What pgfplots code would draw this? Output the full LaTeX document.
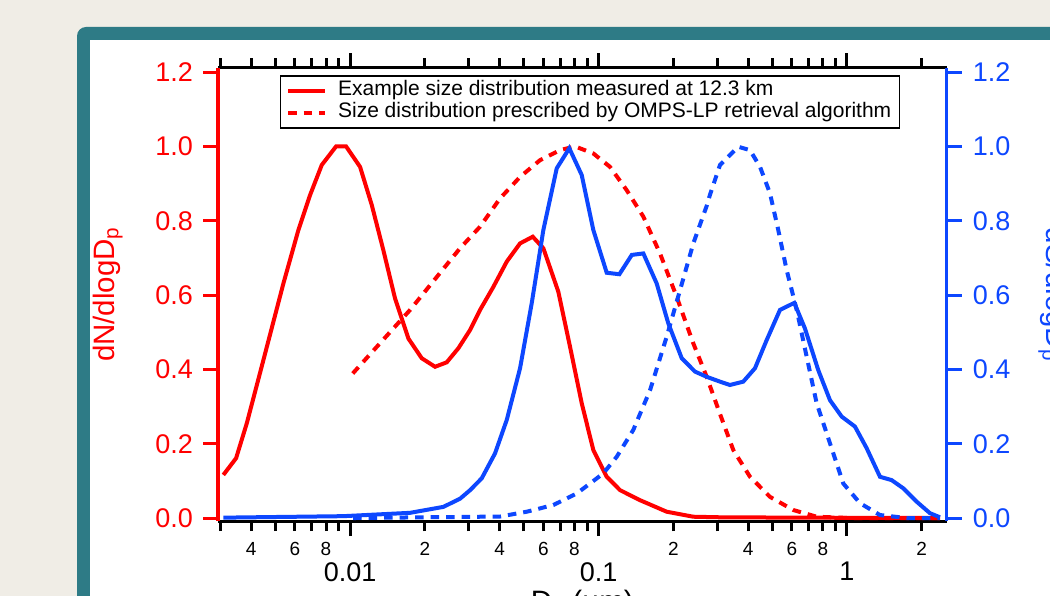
\documentclass[border=0pt]{standalone}
\usepackage{pgfplots}
\pgfplotsset{compat=1.18}
\usepackage{fontspec}
\setmainfont{Liberation Sans}
\definecolor{bgbeige}{HTML}{F0EDE6}
\definecolor{frameteal}{HTML}{2E7B86}
\definecolor{myred}{HTML}{FF0000}
\definecolor{myblue}{HTML}{0D47FF}
\newcommand{\bigf}{\fontsize{27}{30}\selectfont}
\newcommand{\labf}{\fontsize{29.5}{32}\selectfont}
\newcommand{\smallf}{\fontsize{19}{21}\selectfont}
\pgfplotsset{
  legend image code/.code={\draw[#1] (0pt,0pt) -- (37pt,0pt);},
}
\begin{document}
\begin{tikzpicture}
\useasboundingbox (0,0) rectangle (1050pt,-596pt);
\clip (0,0) rectangle (1050pt,-596pt);
\fill[bgbeige] (0,0) rectangle (1050pt,-596pt);
\fill[frameteal, rounded corners=9pt] (77pt,-27pt) rectangle (1120pt,-660pt);
\fill[white] (90pt,-40pt) rectangle (1120pt,-660pt);
\begin{axis}[
  at={(218pt,-521pt)}, anchor=south west,
  scale only axis, width=728.7pt, height=453pt,
  xmode=log, xmin=0.00294, xmax=2.52,
  ymin=-0.008, ymax=1.211,
  tick align=outside,
  ytick={0,0.2,0.4,0.6,0.8,1.0,1.2},
  yticklabels={0.0,0.2,0.4,0.6,0.8,1.0,1.2},
  major tick length=15pt,
  minor tick length=10pt,
  axis x line*=box, axis y line*=left,
  x axis line style={black, line width=3pt},
  xtick style={black, line width=3pt},
  y axis line style={myred, line width=3.5pt},
  ytick style={myred, line width=3pt},
  yticklabel style={font=\bigf, inner sep=0pt, myred, xshift=-10pt},
  xtick={0.01,0.1,1},
  xticklabels={0.01,0.1,1},
  xticklabel style={font=\bigf, inner sep=0pt, yshift=-26pt},
  extra x ticks={0.003,0.004,0.005,0.006,0.007,0.008,0.009,0.02,0.03,0.04,0.05,0.06,0.07,0.08,0.09,0.2,0.3,0.4,0.5,0.6,0.7,0.8,0.9,2},
  extra x tick labels={,4,,6,,8,,2,,4,,6,,8,,2,,4,,6,,8,,2},
  extra x tick style={major tick length=10pt, xticklabel style={font=\smallf, inner sep=0pt, yshift=15pt}},
  ylabel={dN/dlogD\textsubscript{p}},
  ylabel style={myred, font=\labf, at={(axis description cs:-0.151,0.5)}, anchor=center},
  xlabel={D\textsubscript{p} (µm)},
  xlabel style={font=\labf, at={(axis description cs:0.5,0)}, anchor=north, inner sep=0pt, yshift=-69pt},
  legend style={at={(0.085,0.984)}, anchor=north west, draw=black, line width=1.3pt, fill=white,
    font=\fontsize{21}{23}\selectfont, inner xsep=5.5pt, inner ysep=4pt, column sep=8pt,
    nodes={inner xsep=3pt, inner ysep=0pt, text height=16pt, text depth=6pt}},
  legend cell align=left,
]
\addplot[myred, line width=4pt] coordinates {
(0.003090,0.116) (0.003477,0.161) (0.003840,0.255) (0.004478,0.425) (0.005389,0.631)
(0.006194,0.775) (0.006902,0.869) (0.007693,0.950) (0.008783,1.000) (0.009636,1.000)
(0.01097,0.945) (0.01223,0.842) (0.01361,0.721) (0.01517,0.591) (0.01717,0.483)
(0.01943,0.430) (0.02198,0.407) (0.02449,0.419) (0.02729,0.457) (0.03041,0.506)
(0.03336,0.560) (0.03773,0.622) (0.04272,0.690) (0.04832,0.739) (0.05435,0.757)
(0.05997,0.726) (0.06890,0.609) (0.07679,0.461) (0.08557,0.309) (0.09530,0.183)
(0.1079,0.111) (0.1221,0.075) (0.1469,0.048) (0.1881,0.017) (0.2407,0.0035)
(0.3083,0.002) (0.6470,0.001) (2.37,0.0)
};
\addlegendentry{Example size distribution measured at 12.3 km}
\addplot[myred, line width=4pt, dash pattern=on 8.5pt off 7pt] coordinates {
(0.01025,0.389) (0.01744,0.560) (0.02771,0.726) (0.03336,0.784) (0.04014,0.860)
(0.04832,0.918) (0.05815,0.963) (0.06999,0.990) (0.08043,1.000) (0.09530,0.981)
(0.1112,0.945) (0.1299,0.882) (0.1515,0.811) (0.1768,0.712) (0.2064,0.595)
(0.2407,0.470) (0.2725,0.380) (0.3083,0.280) (0.3487,0.183) (0.4071,0.111)
(0.4898,0.057) (0.6081,0.0215) (0.7551,0.0035) (1.028,0.0) (2.37,0.0)
};
\addlegendentry{Size distribution prescribed by OMPS-LP retrieval algorithm}
\end{axis}
\begin{axis}[
  at={(218pt,-521pt)}, anchor=south west,
  scale only axis, width=728.7pt, height=453pt,
  xmode=log, xmin=0.00294, xmax=2.52,
  ymin=-0.008, ymax=1.211,
  tick align=outside,
  ytick={0,0.2,0.4,0.6,0.8,1.0,1.2},
  yticklabels={0.0,0.2,0.4,0.6,0.8,1.0,1.2},
  major tick length=15pt,
  axis y line*=right, axis x line=none,
  y axis line style={myblue, line width=3.5pt},
  ytick style={myblue, line width=3pt},
  yticklabel style={font=\bigf, inner sep=0pt, myblue, xshift=11pt},
  ylabel={dS/dlogD\textsubscript{p}},
  ylabel style={myblue, font=\labf, at={(axis description cs:1.146,0.5)}, anchor=center, rotate=180},
]
\addplot[myblue, line width=4pt] coordinates {
(0.003090,0.001) (0.009398,0.005) (0.01744,0.014) (0.02374,0.030) (0.02771,0.052)
(0.03041,0.075) (0.03389,0.107) (0.03833,0.174) (0.04272,0.264) (0.04832,0.403)
(0.05384,0.578) (0.05997,0.775) (0.06789,0.941) (0.07629,0.995) (0.08557,0.923)
(0.09530,0.775) (0.1079,0.660) (0.1213,0.656) (0.1361,0.708) (0.1515,0.712)
(0.1715,0.631) (0.1909,0.524) (0.2162,0.430) (0.2445,0.394) (0.2725,0.380)
(0.3083,0.367) (0.3382,0.358) (0.3825,0.367) (0.4263,0.403) (0.4752,0.479)
(0.5375,0.560) (0.6138,0.579) (0.6775,0.510) (0.7664,0.398) (0.8544,0.317)
(0.9521,0.273) (1.077,0.246) (1.200,0.188) (1.358,0.111) (1.513,0.102)
(1.685,0.080) (1.908,0.044) (2.158,0.013) (2.367,0.002)
};
\addplot[myblue, line width=4pt, dash pattern=on 8.5pt off 7pt] coordinates {
(0.01028,0.0) (0.04014,0.004) (0.05141,0.017) (0.06579,0.035) (0.08173,0.066)
(0.1045,0.120) (0.1184,0.165) (0.1380,0.237) (0.1612,0.344) (0.1881,0.488)
(0.2128,0.613) (0.2407,0.739) (0.2725,0.840) (0.2810,0.870) (0.3083,0.950)
(0.3652,0.999) (0.4071,0.990) (0.4467,0.945) (0.4898,0.874) (0.5290,0.775)
(0.5719,0.667) (0.6277,0.560) (0.6884,0.434) (0.7551,0.309) (0.8544,0.201)
(0.9663,0.093) (1.128,0.040) (1.358,0.008) (1.739,0.0) (2.367,0.0)
};
\end{axis}
\end{tikzpicture}
\end{document}
